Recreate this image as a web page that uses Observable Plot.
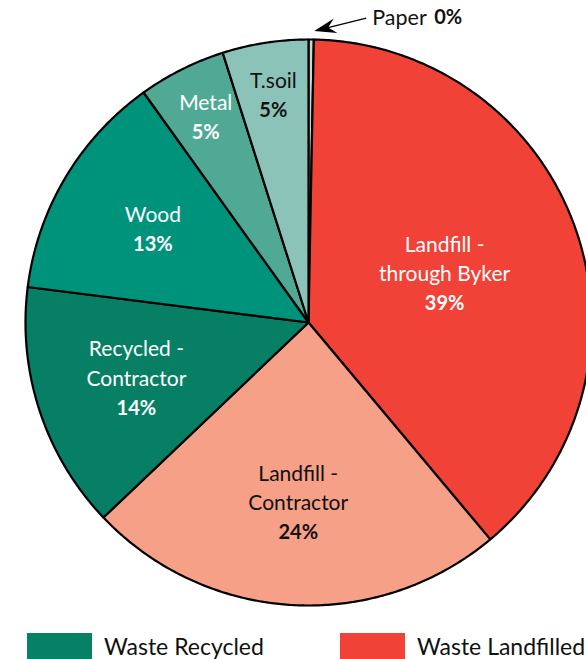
<!DOCTYPE html>
<html>
<head>
<meta charset="utf-8">
<script src="https://cdn.jsdelivr.net/npm/d3@7"></script>
<script src="https://cdn.jsdelivr.net/npm/@observablehq/plot@0.6"></script>
<style>
  html, body { margin: 0; padding: 0; background: #fff; }
  body { width: 586px; height: 659px; overflow: hidden; font-family: Lato, "Open Sans", sans-serif; }
  #chart svg { display: block; }
  .legend { position: relative; height: 39px; }
  .item { position: absolute; top: 12px; display: flex; align-items: center; font-size: 23px; color: #111; }
  .sw { width: 65px; height: 26px; margin-right: 12px; }
</style>
</head>
<body>
<div id="chart"></div>
<div class="legend" id="legend"></div>
<script>
// ---- data ----
const categories = ["Paper", "Landfill - through Byker", "Landfill - Contractor", "Recycled - Contractor", "Wood", "Metal", "T.soil"];
const nameLines = [["Paper"], ["Landfill -", "through Byker"], ["Landfill -", "Contractor"], ["Recycled -", "Contractor"], ["Wood"], ["Metal"], ["T.soil"]];
const shares = [0.3, 38.6, 24.0, 14.1, 13.1, 5.0, 4.9];
const labels = ["0%", "39%", "24%", "14%", "13%", "5%", "5%"];
const groups = ["Landfilled", "Landfilled", "Landfilled", "Recycled", "Recycled", "Recycled", "Recycled"];
const legendNames = ["Waste Recycled", "Waste Landfilled"];

// ---- styles ----
const colors = ["#c5d9d4", "#f04236", "#f6a088", "#077f65", "#00937b", "#4fa995", "#8bc3b8"];
const textColors = ["#111", "#fff", "#111", "#fff", "#fff", "#fff", "#111"];
const legendColors = ["#068166", "#f04236"];

const total = d3.sum(shares);
const slices = d3.pie().sort(null).value(d => d)(shares);

// polygon points for each slice, in data units (unit circle)
const pts = [];
slices.forEach((s, i) => {
  const n = Math.max(2, Math.ceil((s.endAngle - s.startAngle) / (Math.PI / 360)));
  pts.push({k: i, x: 0, y: 0});
  for (let j = 0; j <= n; j++) {
    const a = s.startAngle + (s.endAngle - s.startAngle) * j / n;
    pts.push({k: i, x: Math.sin(a), y: Math.cos(a)});
  }
  pts.push({k: i, x: 0, y: 0});
});

const R = 283; // pixel radius
const lh = 29.5; // pixel line height
const textRows = [];
slices.forEach((s, i) => {
  if (i === 0) return; // paper labelled outside
  const frac = shares[i] / total;
  const rf = frac > 0.3 ? 0.51 : frac > 0.1 ? 0.64 : 0.81;
  const a = (s.startAngle + s.endAngle) / 2;
  const cx = rf * Math.sin(a), cy = rf * Math.cos(a);
  const lines = nameLines[i].map(t => ({t, bold: false})).concat([{t: labels[i], bold: true}]);
  const N = lines.length;
  lines.forEach((l, j) => {
    textRows.push({x: cx, y: cy - (j - (N - 1) / 2) * lh / R, text: l.t, bold: l.bold, color: textColors[i]});
  });
});

// paper callout (arrow with filled head)
const pa = (slices[0].startAngle + slices[0].endAngle) / 2;
const tip = {x: Math.sin(pa) * 1.03 + 3 / R, y: Math.cos(pa) * 1.03};
const tail = {x: tip.x + 52 / R, y: tip.y + 13 / R};
const ux = (tip.x - tail.x), uy = (tip.y - tail.y);
const ul = Math.hypot(ux, uy);
const u = {x: ux / ul, y: uy / ul}, p = {x: -u.y, y: u.x};
const L = 22 / R, W = 15 / R;
const head = [
  {x: tip.x, y: tip.y},
  {x: tip.x - u.x * L + p.x * W / 2, y: tip.y - u.y * L + p.y * W / 2},
  {x: tip.x - u.x * L * 0.65, y: tip.y - u.y * L * 0.65},
  {x: tip.x - u.x * L - p.x * W / 2, y: tip.y - u.y * L - p.y * W / 2},
  {x: tip.x, y: tip.y}
];

const plot = Plot.plot({
  width: 586,
  height: 620,
  margin: 0,
  x: {domain: [-1, 1], range: [308 - R, 308 + R], axis: null},
  y: {domain: [-1, 1], range: [322 + R, 322 - R], axis: null},
  style: {fontFamily: "Lato, 'Open Sans', sans-serif", overflow: "visible"},
  marks: [
    Plot.line(pts, {x: "x", y: "y", z: "k", fill: d => colors[d.k], stroke: "#000", strokeWidth: 2.2, strokeLinejoin: "round", curve: "linear"}),
    Plot.text(textRows.filter(d => !d.bold), {x: "x", y: "y", text: "text", fill: "color", fontSize: 21, fontWeight: 400, lineAnchor: "middle"}),
    Plot.text(textRows.filter(d => d.bold), {x: "x", y: "y", text: "text", fill: "color", fontSize: 20, fontWeight: 700, lineAnchor: "middle"}),
    Plot.link([{x1: tail.x, y1: tail.y, x2: tip.x - u.x * L * 0.6, y2: tip.y - u.y * L * 0.6}], {x1: "x1", y1: "y1", x2: "x2", y2: "y2", stroke: "#000", strokeWidth: 1.3}),
    Plot.line(head, {x: "x", y: "y", fill: "#000", stroke: "none"}),
    Plot.text([{x: tail.x, y: tail.y, name: nameLines[0][0]}], {x: "x", y: "y", text: "name", textAnchor: "start", dx: 6, fontSize: 21.5, fill: "#111", lineAnchor: "middle"}),
    Plot.text([{x: tail.x, y: tail.y, v: labels[0]}], {x: "x", y: "y", text: "v", textAnchor: "start", dx: 68, fontSize: 20, fontWeight: 700, fill: "#111", lineAnchor: "middle"})
  ]
});
document.getElementById("chart").appendChild(plot);

const lg = document.getElementById("legend");
const lefts = [27, 340];
legendNames.forEach((n, i) => {
  const it = document.createElement("div");
  it.className = "item";
  it.style.left = lefts[i] + "px";
  it.innerHTML = `<div class="sw" style="background:${legendColors[i]}"></div><span>${n}</span>`;
  lg.appendChild(it);
});
</script>
</body>
</html>
